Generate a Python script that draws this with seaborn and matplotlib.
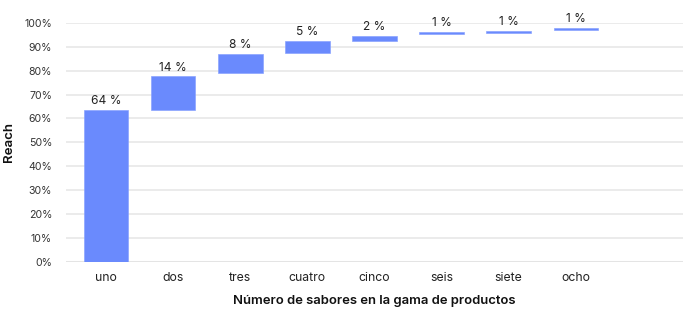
import matplotlib
matplotlib.use("Agg")
import matplotlib.pyplot as plt
import seaborn as sns
import pandas as pd
from matplotlib.ticker import PercentFormatter

# Flavour count in the range, with the cumulative reach where each step starts
# and the incremental reach it adds (percent)
sabores = ["uno", "dos", "tres", "cuatro", "cinco", "seis", "siete", "ocho"]
reach_base = [0.0, 63.6, 78.9, 87.2, 92.5, 95.2, 95.8, 96.9]
reach_gain = [63.6, 14.0, 8.0, 5.2, 2.1, 1.0, 1.0, 1.0]
y_ticks = [0, 10, 20, 30, 40, 50, 60, 70, 80, 90, 100]

df = pd.DataFrame({"sabores": sabores, "base": reach_base, "gain": reach_gain})

sns.set_theme(style="white")
plt.rcParams["font.family"] = ["Inter", "DejaVu Sans"]

fig = plt.figure(figsize=(7.0, 3.22), dpi=100)
ax = fig.add_axes([0.0943, 0.187, 0.8814, 0.742])

bar_color = "#6a8afd"
sns.barplot(data=df, x="sabores", y="gain", order=sabores, color=bar_color,
            saturation=1, width=0.66, bottom=df["base"], ax=ax, zorder=3,
            edgecolor="#86a0ff", linewidth=0.45)

for i, (b, g) in enumerate(zip(reach_base, reach_gain)):
    ax.text(i, b + g + 1.2, f"{round(g)} %", ha="center", va="bottom",
            fontsize=8.6, color="#222222", zorder=4)

ax.set_xlim(-0.6, 8.6)
ax.set_ylim(0, 100)
ax.set_yticks(y_ticks)
ax.yaxis.set_major_formatter(PercentFormatter(100, decimals=0))
ax.grid(axis="y", color="#ebebeb", linewidth=1.4)
ax.set_axisbelow(True)
ax.axhline(0, color="#e4e4e4", linewidth=2.2, zorder=2)
for s in ax.spines.values():
    s.set_visible(False)
ax.tick_params(axis="y", length=0, pad=10, labelsize=7.6, labelcolor="#333333")
ax.tick_params(axis="x", length=0, pad=7, labelsize=8.8, labelcolor="#222222")

ax.set_xlabel("Número de sabores en la gama de productos", fontsize=9.4,
              fontweight="semibold", color="#111111", labelpad=8)
ax.set_ylabel("Reach", fontsize=9.6, fontweight="semibold", color="#111111")
ax.yaxis.set_label_coords(-0.083, 0.5)

fig.savefig("out.png", dpi=100, facecolor="white")
